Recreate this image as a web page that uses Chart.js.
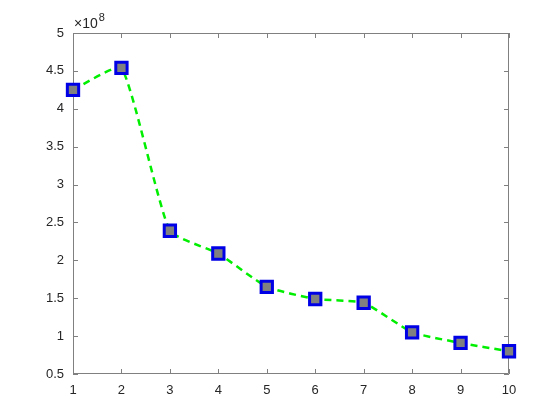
<!DOCTYPE html>
<html>
<head>
<meta charset="utf-8">
<script src="https://cdn.jsdelivr.net/npm/chart.js@4/dist/chart.umd.min.js"></script>
<style>
  html, body { margin: 0; padding: 0; background: #fff; }
  #wrap { width: 560px; height: 420px; }
</style>
</head>
<body>
<div id="wrap"><canvas id="chart" width="560" height="420"></canvas></div>
<script>
// data (y in units of 1e8)
const xValues = [1, 2, 3, 4, 5, 6, 7, 8, 9, 10];
const yValues = [4.25, 4.54, 2.39, 2.09, 1.65, 1.49, 1.44, 1.05, 0.91, 0.80];
const yTicks = [0.5, 1, 1.5, 2, 2.5, 3, 3.5, 4, 4.5, 5];
const xTicks = [1, 2, 3, 4, 5, 6, 7, 8, 9, 10];
const exponent = 8;

const SCALE = Math.pow(10, exponent);
const axisColor = '#808080';
const textColor = '#262626';
const fontFamily = "'Liberation Sans', Arial, sans-serif";

// box + inward tick marks + exponent label, MATLAB style
const matlabAxes = {
    id: 'matlabAxes',
    beforeDatasetsDraw(chart) {
        const { ctx, chartArea: a, scales } = chart;
        ctx.save();
        ctx.strokeStyle = axisColor;
        ctx.lineWidth = 1;
        ctx.beginPath();
        ctx.rect(a.left + 0.5, a.top + 0.5, a.right - a.left - 1, a.bottom - a.top - 1);
        ctx.stroke();

        const len = 5;
        ctx.beginPath();
        xTicks.forEach(v => {
            const px = Math.round(scales.x.getPixelForValue(v)) + 0.5;
            ctx.moveTo(px, a.bottom); ctx.lineTo(px, a.bottom - len);
            ctx.moveTo(px, a.top); ctx.lineTo(px, a.top + len);
        });
        yTicks.forEach(v => {
            const py = Math.round(scales.y.getPixelForValue(v * SCALE)) + 0.5;
            ctx.moveTo(a.left, py); ctx.lineTo(a.left + len, py);
            ctx.moveTo(a.right, py); ctx.lineTo(a.right - len, py);
        });
        ctx.stroke();

        // "×10^8" above the y axis
        ctx.fillStyle = textColor;
        ctx.textBaseline = 'alphabetic';
        ctx.textAlign = 'left';
        ctx.font = '14px ' + fontFamily;
        const base = '\u00d710';
        ctx.fillText(base, a.left + 1, a.top - 5);
        const w = ctx.measureText(base).width;
        ctx.font = '11px ' + fontFamily;
        ctx.fillText(String(exponent), a.left + 1 + w + 1, a.top - 12);
        ctx.restore();
    }
};

new Chart(document.getElementById('chart'), {
    type: 'line',
    data: {
        datasets: [{
            data: xValues.map((x, i) => ({ x: x, y: yValues[i] * SCALE })),
            borderColor: '#00ee00',
            borderWidth: 2.5,
            borderDash: [7, 5],
            tension: 0.15,
            clip: false,
            pointStyle: 'rect',
            pointRadius: 8,
            pointHoverRadius: 8,
            pointBorderWidth: 3,
            pointBorderColor: '#0000e6',
            pointBackgroundColor: '#808080',
            fill: false
        }]
    },
    options: {
        responsive: false,
        animation: false,
        events: [],
        layout: { padding: { top: 33, right: 51, left: 0, bottom: 0 } },
        plugins: { legend: { display: false }, tooltip: { enabled: false } },
        scales: {
            x: {
                type: 'linear',
                min: 1, max: 10,
                afterBuildTicks: s => { s.ticks = xTicks.map(v => ({ value: v })); },
                afterFit: s => { s.height = 46; },
                grid: { display: false, drawTicks: false },
                border: { display: false },
                ticks: {
                    color: textColor,
                    font: { family: fontFamily, size: 13 },
                    padding: 9,
                    maxRotation: 0,
                    autoSkip: false
                }
            },
            y: {
                type: 'linear',
                min: 0.5 * SCALE, max: 5 * SCALE,
                afterBuildTicks: s => { s.ticks = yTicks.map(v => ({ value: v * SCALE })); },
                afterFit: s => { s.width = 73; },
                grid: { display: false, drawTicks: false },
                border: { display: false },
                ticks: {
                    color: textColor,
                    font: { family: fontFamily, size: 13 },
                    padding: 9,
                    autoSkip: false,
                    callback: v => String(Math.round(v / SCALE * 10) / 10)
                }
            }
        }
    },
    plugins: [matlabAxes]
});
</script>
</body>
</html>
